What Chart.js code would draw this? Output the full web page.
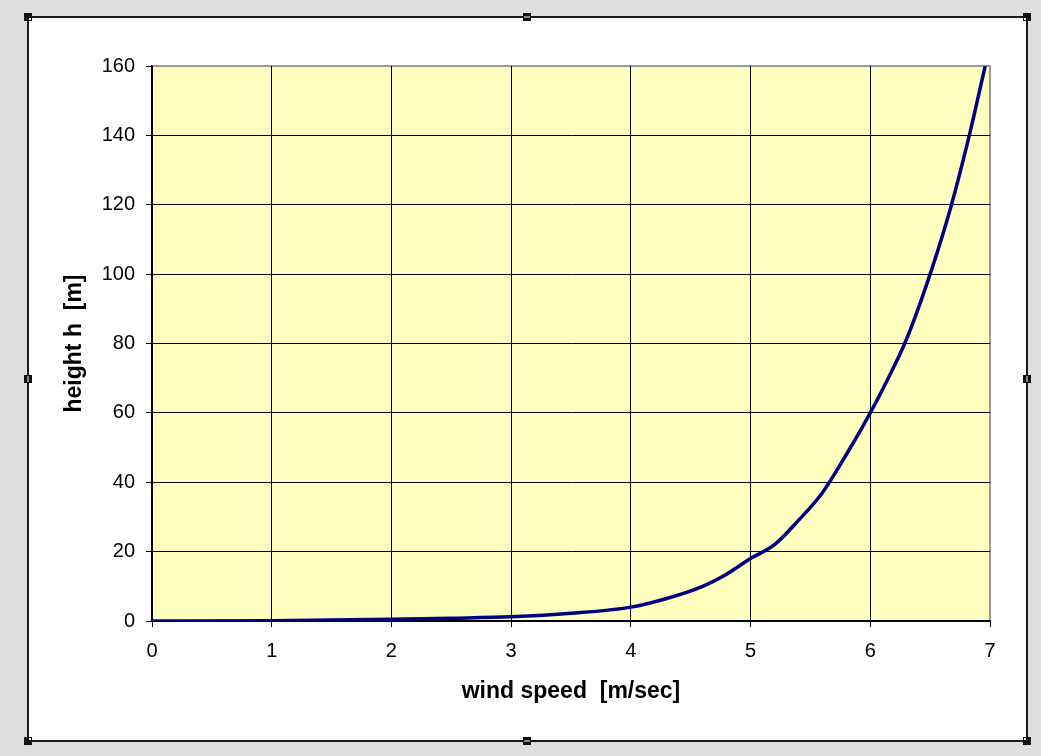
<!DOCTYPE html>
<html>
<head>
<meta charset="utf-8">
<script src="https://cdn.jsdelivr.net/npm/chart.js@4.4.1/dist/chart.umd.min.js"></script>
<style>
  html, body { margin: 0; padding: 0; background: #dedede; }
  #wrap { width: 1041px; height: 756px; position: relative; }
</style>
</head>
<body>
<div id="wrap"><canvas id="windChart" width="1041" height="756"></canvas></div>
<script>
// Wind profile: height vs wind speed

const windSpeed = [0, 1, 1.5, 2, 2.5, 3, 3.5, 4, 4.3, 4.6, 4.8, 5, 5.2, 5.4, 5.6, 5.8, 6, 6.15, 6.3, 6.5, 6.67, 6.82, 6.96];
const heightM = [0, 0.1, 0.3, 0.5, 0.8, 1.2, 2.2, 4, 6.5, 10, 13.5, 18, 22, 29, 37, 48, 60, 70, 81, 100, 119, 139, 160];
const xTicks = [0, 1, 2, 3, 4, 5, 6, 7];
const yTicks = [0, 20, 40, 60, 80, 100, 120, 140, 160];

const points = windSpeed.map((v, i) => ({ x: v, y: heightM[i] }));

// Draw the grey window, white chart frame with selection handles, and the yellow plot area
const framePlugin = {
  id: 'frame',
  beforeDraw(chart) {
    const ctx = chart.ctx;
    const area = chart.chartArea;
    ctx.save();
    ctx.fillStyle = '#dedede';
    ctx.fillRect(0, 0, chart.width, chart.height);
    ctx.fillStyle = '#ffffff';
    ctx.fillRect(28, 17, 1000, 725);
    ctx.strokeStyle = '#1a1a1a';
    ctx.lineWidth = 2;
    ctx.strokeRect(28, 17, 999, 724);

    // selection handles
    const handles = [[28, 17], [527, 17], [1027, 17], [28, 379], [1027, 379], [28, 741], [527, 741], [1027, 741]];
    handles.forEach(([hx, hy]) => {
      ctx.fillStyle = '#111';
      ctx.fillRect(hx - 4, hy - 4, 8, 8);
      ctx.fillStyle = '#ffffff';
      if (hx === 527) {
        ctx.fillRect(hx - 3, hy - 0.5, 6, 1);
      } else if (hy === 379) {
        ctx.fillRect(hx - 0.5, hy - 3, 1, 6);
      } else {
        ctx.fillRect(hx + (hx < 500 ? 1 : -3), hy + (hy < 300 ? 1 : -3), 2, 2);
      }
    });

    ctx.fillStyle = '#ffffc0';
    ctx.fillRect(area.left, area.top, area.right - area.left, area.bottom - area.top);
    ctx.strokeStyle = '#9a9a9a';
    ctx.lineWidth = 2;
    ctx.beginPath();
    ctx.moveTo(area.left, area.top);
    ctx.lineTo(area.right, area.top);
    ctx.lineTo(area.right, area.bottom);
    ctx.stroke();
    ctx.restore();
  }
};

const ctx = document.getElementById('windChart');

new Chart(ctx, {
  type: 'line',
  data: {
    datasets: [{
      label: 'height',
      data: points,
      borderColor: '#000080',
      borderWidth: 3.5,
      pointRadius: 0,
      fill: false,
      cubicInterpolationMode: 'monotone'
    }]
  },
  options: {
    responsive: false,
    animation: false,
    layout: {
      padding: { left: 48, right: 51, top: 66, bottom: 40 }
    },
    plugins: {
      legend: { display: false },
      tooltip: { enabled: false }
    },
    scales: {
      x: {
        type: 'linear',
        min: 0,
        max: 7,
        afterBuildTicks: axis => { axis.ticks = xTicks.map(v => ({ value: v })); },
        afterFit: axis => { axis.height = 95; },
        ticks: {
          color: '#000',
          padding: 12,
          font: { family: 'Liberation Sans, Arial, sans-serif', size: 20 }
        },
        grid: {
          color: c => (c.tick && c.tick.value === 7 ? 'rgba(0,0,0,0)' : '#000'),
          tickColor: '#000',
          tickLength: 6,
          lineWidth: 1
        },
        border: { color: '#000', width: 1.5 },
        title: {
          display: true,
          text: 'wind speed  [m/sec]',
          color: '#000',
          padding: { top: 0, bottom: 11 },
          font: { family: 'Liberation Sans, Arial, sans-serif', size: 23, weight: 'bold' }
        }
      },
      y: {
        type: 'linear',
        min: 0,
        max: 160,
        afterBuildTicks: axis => { axis.ticks = yTicks.map(v => ({ value: v })); },
        afterFit: axis => { axis.width = 104; },
        ticks: {
          color: '#000',
          padding: 11,
          font: { family: 'Liberation Sans, Arial, sans-serif', size: 20 }
        },
        grid: {
          color: c => (c.tick && c.tick.value === 160 ? 'rgba(0,0,0,0)' : '#000'),
          tickColor: '#000',
          tickLength: 6,
          lineWidth: 1
        },
        border: { color: '#000', width: 1.5 },
        title: {
          display: true,
          text: 'height h  [m]',
          color: '#000',
          padding: { top: 13, bottom: 0 },
          font: { family: 'Liberation Sans, Arial, sans-serif', size: 23, weight: 'bold' }
        }
      }
    }
  },
  plugins: [framePlugin]
});
</script>
</body>
</html>
